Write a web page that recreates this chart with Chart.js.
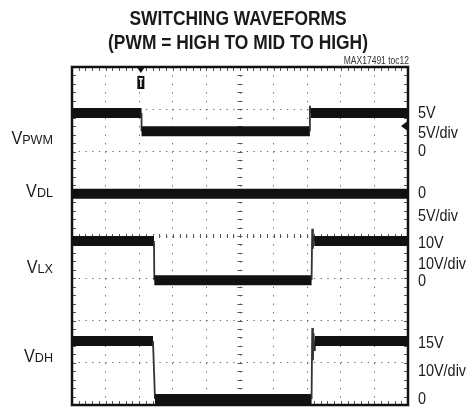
<!DOCTYPE html>
<html lang="en">
<head>
<meta charset="UTF-8">
<title>Switching Waveforms</title>
<style>
  html, body { margin: 0; padding: 0; background: #fff; }
  #wrap { width: 472px; height: 408px; position: relative; }
</style>
</head>
<body>
<div id="wrap"><canvas id="scope"></canvas></div>

<script src="https://cdn.jsdelivr.net/npm/chart.js"></script>
<script>
// Scope screen: 10 horizontal divisions, 8 vertical divisions.
// Each channel: sample times (div), volts, ground position (div), volts/div.
const pwmTime  = [0, 2.07, 2.07, 7.08, 7.08, 7.11, 10];
const pwmVolts = [4.55, 4.55, 2.4, 2.4, 5.4, 4.55, 4.55];

const dlTime  = [0, 10];
const dlVolts = [0, 0];

const lxTime  = [0, 2.44, 2.45, 7.13, 7.15, 7.17, 7.19, 7.21, 10];
const lxVolts = [9.3, 9.3, 0, 0, 12.2, 7.5, 10.5, 9.3, 9.3];

const dhTime  = [0, 2.41, 2.47, 7.13, 7.15, 7.17, 7.19, 7.21, 7.23, 10];
const dhVolts = [13.75, 13.75, 0, 0, 16.8, 9.2, 15.6, 11.6, 13.75, 13.75];

const groundDiv = [6.0, 5.0, 2.95, 0.14];
const voltsPerDiv = [5, 5, 10, 10];
const triggerTime = 2.05;

const xDivs = 10, yDivs = 8;

function toScreen(times, volts, ch) {
  return times.map((t, i) => ({ x: t, y: groundDiv[ch] + volts[i] / voltsPerDiv[ch] }));
}

const traces = [
  toScreen(pwmTime, pwmVolts, 0),
  toScreen(dlTime, dlVolts, 1),
  toScreen(lxTime, lxVolts, 2),
  toScreen(dhTime, dhVolts, 3)
];

// condensed text like the scope plot lettering
function txt(ctx, s, x, y, size, o) {
  o = o || {};
  ctx.save();
  ctx.font = (o.bold ? 'bold ' : '') + size + 'px "Liberation Sans", Arial, sans-serif';
  ctx.fillStyle = o.color || '#1a1a1a';
  ctx.textBaseline = 'alphabetic';
  ctx.textAlign = o.align || 'left';
  ctx.translate(x, y);
  ctx.scale(o.sx || 1, 1);
  ctx.fillText(s, 0, 0);
  ctx.restore();
}

function textW(ctx, s, size, sx) {
  ctx.save();
  ctx.font = size + 'px "Liberation Sans", Arial, sans-serif';
  const w = ctx.measureText(s).width * sx;
  ctx.restore();
  return w;
}

function subLabel(ctx, main, sub, right, base) {
  const w1 = textW(ctx, main, 19, 0.85);
  const w2 = textW(ctx, sub, 13, 0.97);
  const x0 = right - w1 - w2;
  txt(ctx, main, x0, base, 19, { sx: 0.85 });
  txt(ctx, sub, x0 + w1, base, 13, { sx: 0.97 });
}

const scopeDecor = {
  id: 'scopeDecor',
  beforeDatasetsDraw(chart) {
    const { ctx, chartArea: a, scales: { x, y } } = chart;
    ctx.save();
    ctx.strokeStyle = '#555';
    ctx.lineWidth = 1;
    ctx.beginPath();
    const cx = x.getPixelForValue(xDivs / 2), cy = y.getPixelForValue(yDivs / 2);
    for (let i = 1; i < xDivs * 5; i++) {
      const px = Math.round(x.getPixelForValue(i / 5)) + 0.5;
      ctx.moveTo(px, cy - 2); ctx.lineTo(px, cy + 2);
      ctx.moveTo(px, a.top); ctx.lineTo(px, a.top + 4);
      ctx.moveTo(px, a.bottom); ctx.lineTo(px, a.bottom - 4);
    }
    for (let i = 1; i < yDivs * 5; i++) {
      const py = Math.round(y.getPixelForValue(i / 5)) + 0.5;
      ctx.moveTo(cx - 2.5, py); ctx.lineTo(cx + 2.5, py);
      ctx.moveTo(a.left, py); ctx.lineTo(a.left + 4, py);
      ctx.moveTo(a.right, py); ctx.lineTo(a.right - 4, py);
    }
    ctx.stroke();
    ctx.restore();
  },
  afterDatasetsDraw(chart) {
    const { ctx, chartArea: a, scales: { x } } = chart;
    ctx.save();
    ctx.strokeStyle = '#111';
    ctx.lineWidth = 2.5;
    ctx.strokeRect(a.left, a.top, a.right - a.left, a.bottom - a.top);

    // trigger marker
    const tx = x.getPixelForValue(triggerTime);
    ctx.fillStyle = '#111';
    ctx.beginPath();
    ctx.moveTo(tx - 4, a.top); ctx.lineTo(tx + 4, a.top); ctx.lineTo(tx, a.top + 6);
    ctx.fill();
    ctx.fillRect(tx - 3.5, a.top + 9, 7, 13);
    ctx.fillStyle = '#fff';
    ctx.fillRect(tx - 2, a.top + 11, 4, 1.5);
    ctx.fillRect(tx - 0.75, a.top + 11, 1.5, 9);

    // channel offset marker on right edge
    ctx.fillStyle = '#111';
    ctx.beginPath();
    ctx.moveTo(a.right - 7, 126); ctx.lineTo(a.right - 1, 121.5); ctx.lineTo(a.right - 1, 130.5);
    ctx.fill();
    ctx.restore();
  },
  afterDraw(chart) {
    const { ctx } = chart;
    txt(ctx, 'SWITCHING WAVEFORMS', 238, 25, 20, { bold: true, align: 'center', sx: 0.87 });
    txt(ctx, '(PWM = HIGH TO MID TO HIGH)', 238, 49, 20, { bold: true, align: 'center', sx: 0.87 });
    txt(ctx, 'MAX17491 toc12', 409, 64, 10, { align: 'right', sx: 0.85, color: '#333' });

    subLabel(ctx, 'V', 'PWM', 53, 144);
    subLabel(ctx, 'V', 'DL', 53, 197);
    subLabel(ctx, 'V', 'LX', 53, 273);
    subLabel(ctx, 'V', 'DH', 53, 362);

    const rx = 418, o = { sx: 0.9 };
    txt(ctx, '5V', rx, 118, 16, o);
    txt(ctx, '5V/div', rx, 138, 16, o);
    txt(ctx, '0', rx, 156, 16, o);
    txt(ctx, '0', rx, 198, 16, o);
    txt(ctx, '5V/div', rx, 221, 16, o);
    txt(ctx, '10V', rx, 248, 16, o);
    txt(ctx, '10V/div', rx, 269, 16, o);
    txt(ctx, '0', rx, 286, 16, o);
    txt(ctx, '15V', rx, 348, 16, o);
    txt(ctx, '10V/div', rx, 376, 16, o);
    txt(ctx, '0', rx, 404, 16, o);
  }
};

const ctx = document.getElementById('scope').getContext('2d');
const scopeChart = new Chart(ctx, {
  type: 'line',
  data: {
    datasets: traces.map((d, i) => ({
      label: ['VPWM', 'VDL', 'VLX', 'VDH'][i],
      data: d,
      borderColor: '#111',
      borderWidth: 10,
      pointRadius: 0,
      tension: 0,
      borderCapStyle: 'butt',
      segment: {
        borderWidth: c => (c.p0.parsed.y === c.p1.parsed.y ? 10 : 1.8),
        borderColor: c => (c.p0.parsed.y === c.p1.parsed.y ? '#111' : '#333')
      }
    }))
  },
  options: {
    responsive: true,
    maintainAspectRatio: false,
    animation: false,
    layout: { padding: { left: 72, right: 64, top: 67, bottom: 3 } },
    plugins: { legend: { display: false }, tooltip: { enabled: false } },
    scales: {
      x: {
        type: 'linear', min: 0, max: xDivs,
        ticks: { display: false, stepSize: 1 },
        grid: { color: '#666', lineWidth: 1, drawTicks: false },
        border: { display: false, dash: [1.3, 7.15] }
      },
      y: {
        type: 'linear', min: 0, max: yDivs,
        ticks: { display: false, stepSize: 1 },
        grid: { color: '#666', lineWidth: 1, drawTicks: false },
        border: { display: false, dash: [1.3, 5.42] }
      }
    }
  },
  plugins: [scopeDecor]
});
</script>
</body>
</html>
